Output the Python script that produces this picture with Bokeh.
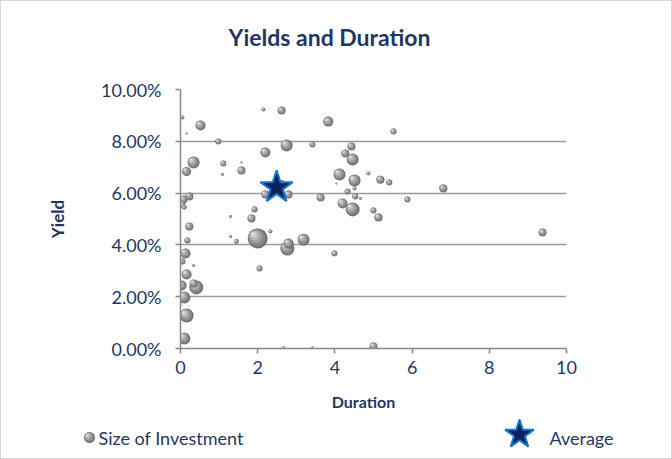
import numpy as np
from bokeh.plotting import figure
from bokeh.layouts import column
from bokeh.models import (Range1d, NumeralTickFormatter, FixedTicker,
                          ColumnDataSource)
from bokeh.core.properties import value
from bokeh.embed import file_html
from bokeh.resources import INLINE

# ---------------- data ----------------
duration = [0.05, 0.52, 0.16, 0.98, 2.15, 2.62, 0.34, 0.16, 1.11, 1.58,
            1.58, 1.09, 2.20, 2.75, 3.42, 3.83, 5.52, 0.23, 0.08, 0.05,
            0.10, 0.23, 1.30, 2.20, 2.80, 2.62, 1.92, 1.84, 2.00, 2.33,
            1.30, 1.45, 2.80, 2.77, 3.19, 2.05, 3.99, 0.18, 0.13, 0.05,
            0.34, 0.16, 0.03, 0.41, 0.34, 0.10, 0.16, 0.10, 4.43, 4.27,
            4.46, 4.12, 4.51, 4.87, 5.18, 5.41, 4.04, 4.33, 4.51, 4.53,
            4.66, 3.63, 4.20, 4.46, 5.00, 5.13, 6.81, 5.88, 9.38, 2.67,
            3.42, 5.00]
yield_pct = [8.92, 8.61, 8.30, 7.99, 9.23, 9.19, 7.18, 6.83, 7.14, 7.18,
             6.87, 6.72, 7.57, 7.84, 7.88, 8.76, 8.38, 5.87, 5.75, 5.55,
             5.45, 4.71, 5.10, 5.95, 5.95, 6.30, 5.37, 5.02, 4.25, 4.52,
             4.32, 4.13, 4.05, 3.86, 4.20, 3.09, 3.67, 4.17, 3.67, 3.36,
             3.20, 2.86, 2.43, 2.36, 2.51, 1.97, 1.27, 0.39, 7.80, 7.53,
             7.30, 6.72, 6.49, 6.76, 6.52, 6.41, 6.37, 6.06, 6.18, 5.87,
             5.79, 5.83, 5.60, 5.37, 5.33, 5.06, 6.18, 5.75, 4.48, 0.02,
             0.02, 0.08]
investment = [4, 25, 1, 9, 4, 16, 36, 20, 9, 1,
              16, 2, 25, 36, 9, 25, 9, 16, 16, 9,
              6, 16, 2, 16, 16, 25, 9, 16, 100, 4,
              2, 6, 25, 49, 36, 9, 9, 9, 25, 9,
              2, 25, 25, 49, 16, 36, 49, 36, 16, 16,
              36, 36, 36, 4, 16, 9, 1, 9, 4, 9,
              2, 16, 25, 49, 9, 16, 16, 9, 16, 2,
              2, 16]
avg_duration = [2.49]
avg_yield = [6.22]
x_ticks = [0, 2, 4, 6, 8, 10]
y_ticks = [0.0, 0.02, 0.04, 0.06, 0.08, 0.10]
chart_title = "Yields and Duration"
x_title = "Duration"
y_title = "Yield"
legend_labels = ["Size of Investment", "Average"]

# ---------------- layout constants ----------------
W, H = 672, 459
H_TOP = 60
H_BOT = 74
H_MAIN = H - H_TOP - H_BOT
FL, FR = 179, 107
FT = 89 - H_TOP
FW, FH = W - FL - FR, 259
FB = H_MAIN - FT - FH
X0, X1, Y0, Y1 = 0, 10, 0.0, 0.10
PX_X = FW / (X1 - X0)
PX_Y = FH / (Y1 - Y0)

NAVY = "#1F3763"
FONT = "Lato"
BORDER = "1px solid #D6D6D6"


def strip(height, sides):
    f = figure(width=W, height=height, output_backend="svg",
               toolbar_location=None, x_range=Range1d(0, W),
               y_range=Range1d(height, 0), x_axis_location=None,
               y_axis_location=None, min_border=0)
    f.frame_align = False
    f.grid.visible = False
    f.outline_line_color = None
    f.background_fill_color = "white"
    f.border_fill_color = "white"
    f.styles = {"border-" + s: BORDER for s in sides}
    return f


# ---------------- top strip: title ----------------
top = strip(H_TOP, ["left", "right", "top"])
top.text(x=[328], y=[35], text=[chart_title], text_font=value(FONT),
         text_font_style="bold", text_font_size="23px", text_color=NAVY,
         text_baseline="middle", text_align="center")

# ---------------- main plot ----------------
p = figure(width=W, height=H_MAIN, output_backend="svg", toolbar_location=None,
           x_range=Range1d(X0, X1), y_range=Range1d(Y0, Y1),
           min_border_left=FL, min_border_right=FR, min_border_top=FT,
           min_border_bottom=FB)
p.frame_align = False
p.outline_line_color = None
p.background_fill_color = "white"
p.border_fill_color = "white"
p.styles = {"border-left": BORDER, "border-right": BORDER}

for ax in (p.xaxis[0], p.yaxis[0]):
    ax.axis_line_color = "#888888"
    ax.axis_line_width = 1.5
    ax.major_tick_line_color = "#888888"
    ax.major_tick_line_width = 1.5
    ax.major_tick_in = 0
    ax.major_tick_out = 5
    ax.minor_tick_line_color = None
    ax.major_label_text_font = FONT
    ax.major_label_text_font_size = "18px"
    ax.major_label_text_color = NAVY
    ax.axis_label_text_font = FONT
    ax.axis_label_text_font_style = "bold"
    ax.axis_label_text_font_size = "17px"
    ax.axis_label_text_color = NAVY
p.xaxis.ticker = FixedTicker(ticks=x_ticks)
p.yaxis.ticker = FixedTicker(ticks=y_ticks)
p.yaxis.formatter = NumeralTickFormatter(format="0.00%")
p.xaxis.major_label_standoff = 7
p.yaxis.major_label_standoff = 14
p.yaxis.axis_label = y_title
p.yaxis.axis_label_standoff = 30

p.xgrid.grid_line_color = None
p.ygrid.grid_line_color = "#9A9A9A"
p.ygrid.grid_line_width = 1.6

# bubbles drawn as shaded spheres
LAYERS = [(1.00, "#707070", 0.00), (0.88, "#858585", 0.04),
          (0.70, "#9c9c9c", 0.09), (0.50, "#b4b4b4", 0.14),
          (0.30, "#cfcfcf", 0.19), (0.12, "#efefef", 0.23)]


def sphere_rows(xs, ys, diams, px_x, px_y):
    bx, by, bs, bc = [], [], [], []
    for x, y, d in zip(xs, ys, diams):
        for s, c, o in LAYERS:
            bx.append(x - o * d / px_x)
            by.append(y + o * d / px_y)
            bs.append(s * d)
            bc.append(c)
    return dict(x=bx, y=by, size=bs, color=bc)


dur = np.array(duration, dtype=float)
yld = np.array(yield_pct, dtype=float) / 100.0
diam = 2.0 * np.sqrt(np.array(investment, dtype=float))
order = np.argsort(-diam, kind="stable")
bsrc = ColumnDataSource(sphere_rows(dur[order], yld[order], diam[order], PX_X, PX_Y))
p.scatter("x", "y", size="size", source=bsrc, fill_color="color", line_color=None)

STAR_FILL, STAR_LINE = "#0A2260", "#1A74C4"
p.scatter(avg_duration, [v / 100.0 for v in avg_yield], marker="star",
          size=34, fill_color=STAR_FILL, line_color=STAR_LINE, line_width=2)

# ---------------- bottom strip: x-axis title + legend ----------------
bot = strip(H_BOT, ["left", "right", "bottom"])
bot.text(x=[362], y=[16], text=[x_title], text_font=value(FONT),
         text_font_style="bold", text_font_size="16px", text_color=NAVY,
         text_baseline="middle", text_align="center")

icon_src = ColumnDataSource(sphere_rows([88], [52], [11], 1, -1))
bot.scatter("x", "y", size="size", source=icon_src, fill_color="color",
            line_color=None)
bot.scatter([518], [49], marker="star", size=30, fill_color=STAR_FILL,
            line_color=STAR_LINE, line_width=2)
bot.text(x=[97, 548], y=[52, 52], text=legend_labels, text_font=value(FONT),
         text_font_size="18px", text_color=NAVY, text_baseline="middle",
         text_align="left")

layout = column(top, p, bot, spacing=0)
open("out.html", "w").write(file_html(layout, INLINE))
